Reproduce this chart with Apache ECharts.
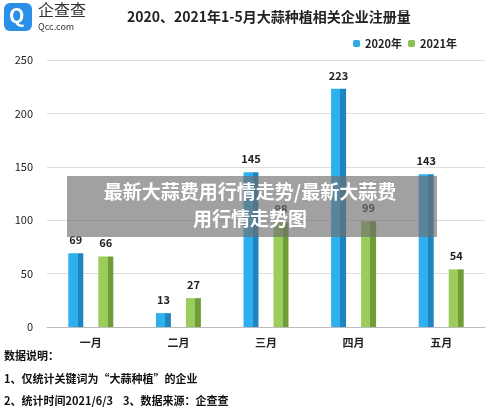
<!DOCTYPE html>
<html><head><meta charset="utf-8">
<script src="https://cdn.jsdelivr.net/npm/echarts@6/dist/echarts.min.js"></script>
<style>body{margin:0}#c{width:500px;height:415px}</style></head>
<body><div id="c"></div>
<script>
const categories = ['一月', '二月', '三月', '四月', '五月'];
const values2020 = [69, 13, 145, 223, 143];
const values2021 = [66, 27, 98, 99, 54];
const yTicks = [0, 50, 100, 150, 200, 250];

const font = '"Noto Sans CJK SC", sans-serif';
function face(light, dark) {
  return new echarts.graphic.LinearGradient(0, 0, 1, 0, [
    { offset: 0, color: light }, { offset: 0.62, color: light },
    { offset: 0.62, color: dark }, { offset: 1, color: dark }
  ]);
}
const chart = echarts.init(document.getElementById('c'));
chart.setOption({
  animation: false,
  textStyle: { fontFamily: font },
  title: {
    text: '2020、2021年1-5月大蒜种植相关企业注册量', left: 122, top: 5,
    textStyle: { fontSize: 14, fontWeight: 'bold', color: '#222', fontFamily: font }
  },
  legend: {
    right: 38, top: 33, itemWidth: 7, itemHeight: 7, itemGap: 6,
    textStyle: { fontSize: 11, fontWeight: 'bold', color: '#222' },
    data: [{ name: '2020年', itemStyle: { color: '#2fa9e6' } }, { name: '2021年', itemStyle: { color: '#8cc152' } }]
  },
  grid: { left: 47, right: 15, top: 60, bottom: 88 },
  xAxis: {
    type: 'category', data: categories,
    axisLine: { lineStyle: { color: '#bbb' } }, axisTick: { show: false },
    axisLabel: { fontSize: 11, fontWeight: 'bold', color: '#222', margin: 10 }
  },
  yAxis: {
    type: 'value', min: yTicks[0], max: yTicks[yTicks.length - 1], interval: 50,
    axisLabel: { fontSize: 11, color: '#222', margin: 14 },
    splitLine: { lineStyle: { color: '#ddd' } }
  },
  series: [
    {
      name: '2020年', type: 'bar', data: values2020, barWidth: 15, barGap: '100%',
      itemStyle: { color: face('#2fb0ee', '#1d86c0') },
      label: { show: true, position: 'top', fontSize: 11, fontWeight: 'bold', color: '#222', distance: 8 }
    },
    {
      name: '2021年', type: 'bar', data: values2021, barWidth: 15,
      itemStyle: { color: face('#9ccc5c', '#6f9d3a') },
      label: { show: true, position: 'top', fontSize: 11, fontWeight: 'bold', color: '#222', distance: 8 }
    }
  ],
  graphic: [
    { type: 'rect', left: 4, top: 3, shape: { width: 28, height: 28, r: 6 }, style: { fill: '#2a8fe8' } },
    { type: 'text', left: 9, top: 5, style: { text: 'Q', fontSize: 20, fontWeight: 'bold', fill: '#fff', fontFamily: font } },
    { type: 'text', left: 38, top: 2, style: { text: '企查查', fontSize: 16, fill: '#333', fontFamily: font } },
    { type: 'text', left: 38, top: 22, style: { text: 'Qcc.com', fontSize: 9, fill: '#333', fontFamily: font } },
    { type: 'rect', left: 67, top: 176, shape: { width: 370, height: 61 }, style: { fill: 'rgba(110,110,110,0.65)' }, z: 100 },
    { type: 'text', z: 101, style: { x: 250, y: 178, text: '最新大蒜费用行情走势/最新大蒜费\n用行情走势图', textAlign: 'center', fontSize: 19, lineHeight: 27, fontWeight: 'bold', fill: '#fff', fontFamily: font } },
    { type: 'text', left: 4, top: 350, style: { text: '数据说明：', fontSize: 11, fontWeight: 'bold', fill: '#111', fontFamily: font } },
    { type: 'text', left: 4, top: 373, style: { text: '1、仅统计关键词为“大蒜种植”的企业', fontSize: 11, fontWeight: 'bold', fill: '#111', fontFamily: font } },
    { type: 'text', left: 4, top: 395, style: { text: '2、统计时间2021/6/3    3、数据来源：企查查', fontSize: 11, fontWeight: 'bold', fill: '#111', fontFamily: font } }
  ]
});
</script></body></html>
